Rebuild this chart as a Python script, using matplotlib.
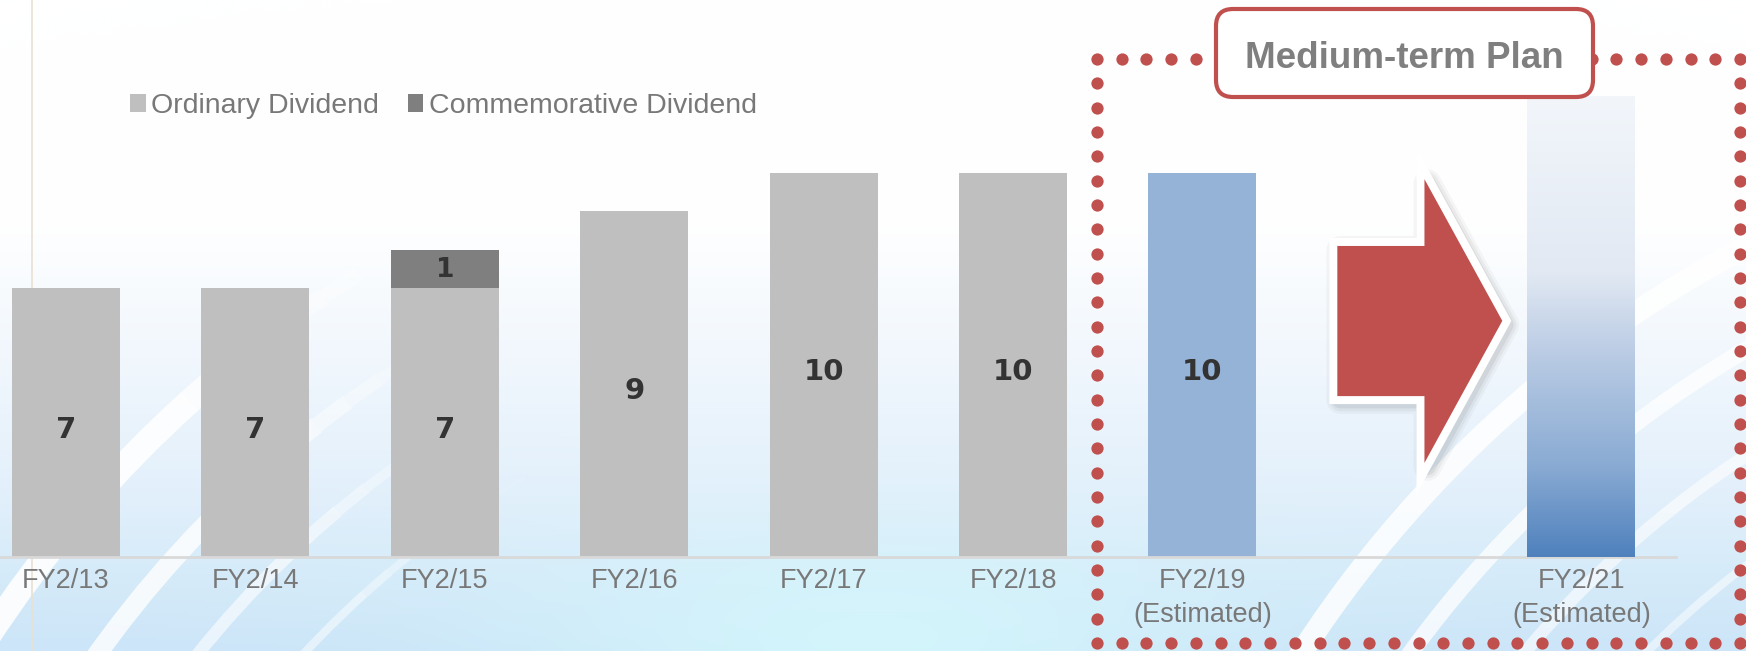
import numpy as np
import matplotlib
matplotlib.use('Agg')
import matplotlib.pyplot as plt
from matplotlib.patches import Arc, FancyBboxPatch, Polygon
from matplotlib.lines import Line2D
from matplotlib.colors import to_rgb, LinearSegmentedColormap
from matplotlib import transforms

# ---- data -------------------------------------------------------------
categories = ["FY2/13", "FY2/14", "FY2/15", "FY2/16", "FY2/17", "FY2/18",
              "FY2/19\n(Estimated)", "", "FY2/21\n(Estimated)"]
ordinary = [7, 7, 7, 9, 10, 10, 10, np.nan, 12]
commemorative = [0, 0, 1, 0, 0, 0, 0, 0, 0]
ordinary_labels = ["7", "7", "7", "9", "10", "10", "10", "", ""]
commemorative_labels = ["", "", "1", "", "", "", "", "", ""]
series_names = ["Ordinary Dividend", "Commemorative Dividend"]
plan_title = "Medium-term Plan"

W, H = 1746, 651
RED = '#c0504d'
GREY_TXT = '#787878'

fig = plt.figure(figsize=(W / 100, H / 100), dpi=100)

# ---- background (gradient + white swooshes) ---------------------------
ax_bg = fig.add_axes([0, 0, 1, 1], zorder=0)
ax_bg.set_xlim(0, W)
ax_bg.set_ylim(H, 0)
ax_bg.axis('off')

yy = np.linspace(0, 1, H)[:, None]
xx = np.linspace(0, 1, W)[None, :]
stops = [(0.0, '#ffffff'), (0.33, '#ffffff'), (0.55, '#f1f7fd'),
         (0.75, '#e3f0fb'), (0.88, '#d6ebf9'), (1.0, '#cce5f8')]
bg_cmap = LinearSegmentedColormap.from_list('bg', stops)
img = bg_cmap(np.repeat(yy, W, axis=1))[..., :3]
glow = np.exp(-((xx - 0.5) / 0.2) ** 2 - ((yy - 1.0) / 0.18) ** 2)
cyan = np.array(to_rgb('#d6fbfd'))
img = img * (1 - 0.7 * glow[..., None]) + cyan * 0.7 * glow[..., None]
ax_bg.imshow(img, extent=(0, W, H, 0), aspect='auto', interpolation='bilinear')


def swoosh(center, r, lw, alpha, t1, t2, fade=12):
    # main arc plus a short tapered tail so the end fades out
    ax_bg.add_patch(Arc(center, 2 * r, 2 * r, theta1=t1, theta2=t2 - fade,
                        color='white', lw=lw, alpha=alpha, capstyle='butt'))
    steps = 6
    edges = np.linspace(t2 - fade, t2, steps + 1)
    for k in range(steps):
        ax_bg.add_patch(Arc(center, 2 * r, 2 * r, theta1=edges[k], theta2=edges[k + 1],
                            color='white', lw=lw * (1 - 0.1 * k),
                            alpha=alpha * (1 - (k + 1) / (steps + 1)), capstyle='butt'))


for r, lw, a in [(1210, 18, 0.9), (1110, 14, 0.8), (1030, 9, 0.6), (950, 6, 0.5)]:
    swoosh((1000, 1300), r, lw, a, 198, 240)
for r, lw, a in [(1190, 16, 0.85), (1100, 12, 0.75), (1010, 9, 0.6), (920, 6, 0.5)]:
    swoosh((2300, 1300), r, lw, a, 205, 254)

# thin beige vertical rule on the left
fig.add_artist(Line2D([32 / W, 32 / W], [0, 1], transform=fig.transFigure,
                      color='#e9e1d2', lw=1.2, zorder=0.5))

# ---- chart ------------------------------------------------------------
slot = 189.5
left_px = 66 - slot / 2
ax = fig.add_axes([left_px / W, 94 / H, (1676 - left_px) / W, 14 * 38.4 / H],
                  zorder=1)
ax.set_facecolor('none')

x = np.arange(len(categories))
ord_colors = ['#bfbfbf'] * 6 + ['#95b3d7', '#bfbfbf', '#95b3d7']
bw = 0.57
b1 = ax.bar(x, ordinary, bw, color=ord_colors, label=series_names[0], zorder=2)
b2 = ax.bar(x, commemorative, bw, bottom=np.nan_to_num(ordinary), color='#7f7f7f',
            label=series_names[1], zorder=2)

# gradient fill for the FY2/21 plan bar
plan = b1.patches[-1]
grad = LinearSegmentedColormap.from_list(
    'plan', [(0.0, '#4f81bd'), (0.2, '#8aabd3'), (0.45, '#bccde5'),
             (0.62, '#e2e9f3'), (1.0, '#f2f6fb')])
gimg = ax.imshow(np.linspace(0, 1, 256)[:, None], cmap=grad, origin='lower',
                 extent=(plan.get_x(), plan.get_x() + plan.get_width(), 0, plan.get_height()),
                 aspect='auto', zorder=3)
gimg.set_clip_path(plan)

for xi, v, lab in zip(x, ordinary, ordinary_labels):
    if lab:
        ax.annotate(lab, (xi, v / 2), xytext=(0, -5), textcoords='offset points',
                    ha='center', va='center', fontsize=21, fontweight='bold',
                    family='DejaVu Sans', color='#333333', zorder=4)
for xi, base, v, lab in zip(x, ordinary, commemorative, commemorative_labels):
    if lab:
        ax.annotate(lab, (xi, base + v / 2), xytext=(0, -1), textcoords='offset points',
                    ha='center', va='center', fontsize=19, fontweight='bold',
                    family='DejaVu Sans', color='#333333', zorder=4)

ax.set_xlim(-0.5, 8.5)
ax.set_ylim(0, 14)
ax.set_xticks(x)
ax.set_xticklabels(categories, fontsize=19.5, family='Liberation Sans',
                   color=GREY_TXT, linespacing=1.4)
ax.tick_params(axis='x', length=0, pad=8)
ax.set_yticks([])
for s in ['top', 'right', 'left']:
    ax.spines[s].set_visible(False)
ax.spines['bottom'].set_color('#d9d9d9')
ax.spines['bottom'].set_linewidth(2)

# block arrow in the empty FY2/20 slot
arrow_pts = [(6.712, 8.10), (7.172, 8.10), (7.172, 9.84), (7.583, 6.15),
             (7.172, 2.45), (7.172, 4.19), (6.712, 4.19)]
shadow_tr = transforms.offset_copy(ax.transData, fig, x=3, y=-4, units='dots')
for lw, a in [(20, 0.05), (16, 0.07), (12, 0.10)]:
    ax.add_patch(Polygon(arrow_pts, closed=True, fc='#606060', ec='#606060', lw=lw,
                         alpha=a, joinstyle='round', transform=shadow_tr, zorder=4))
ax.add_patch(Polygon(arrow_pts, closed=True, fc='white', ec='white', lw=11.5,
                     joinstyle='miter', zorder=5))
ax.add_patch(Polygon(arrow_pts, closed=True, fc=RED, ec='none', zorder=6))

leg = ax.legend(handles=[b1, b2], loc='center left',
                bbox_to_anchor=(130 / W, 1 - 106 / H), bbox_transform=fig.transFigure,
                frameon=False, ncol=2, labelcolor=GREY_TXT,
                handlelength=0.55, handleheight=0.55, handletextpad=0.2,
                columnspacing=1.0, borderpad=0, borderaxespad=0,
                prop={'family': 'Liberation Sans', 'size': 20.5})

# ---- medium-term plan frame (pixel overlay) ---------------------------
ax_px = fig.add_axes([0, 0, 1, 1], zorder=2)
ax_px.set_xlim(0, W)
ax_px.set_ylim(H, 0)
ax_px.axis('off')
ax_px.set_facecolor('none')

fx0, fx1, fy0, fy1 = 1097, 1740, 59, 643
nx, ny = 26, 24
top_x = np.linspace(fx0, fx1, nx + 1)
side_y = np.linspace(fy0, fy1, ny + 1)[1:-1]
dots_x = np.concatenate([top_x, top_x, np.full(ny - 1, fx0), np.full(ny - 1, fx1)])
dots_y = np.concatenate([np.full(nx + 1, fy0), np.full(nx + 1, fy1), side_y, side_y])
ax_px.scatter(dots_x, dots_y, s=78, color=RED, linewidths=0, zorder=1)

ax_px.add_patch(FancyBboxPatch((1216, 9), 377, 88,
                               boxstyle='round,pad=0,rounding_size=17',
                               fc='white', ec=RED, lw=3, zorder=2))
ax_px.text(1404, 58, plan_title, ha='center', va='center', fontsize=26.5,
           fontweight='bold', family='Liberation Sans', color='#7f7f7f', zorder=3)

fig.savefig('out.png', dpi=100)
